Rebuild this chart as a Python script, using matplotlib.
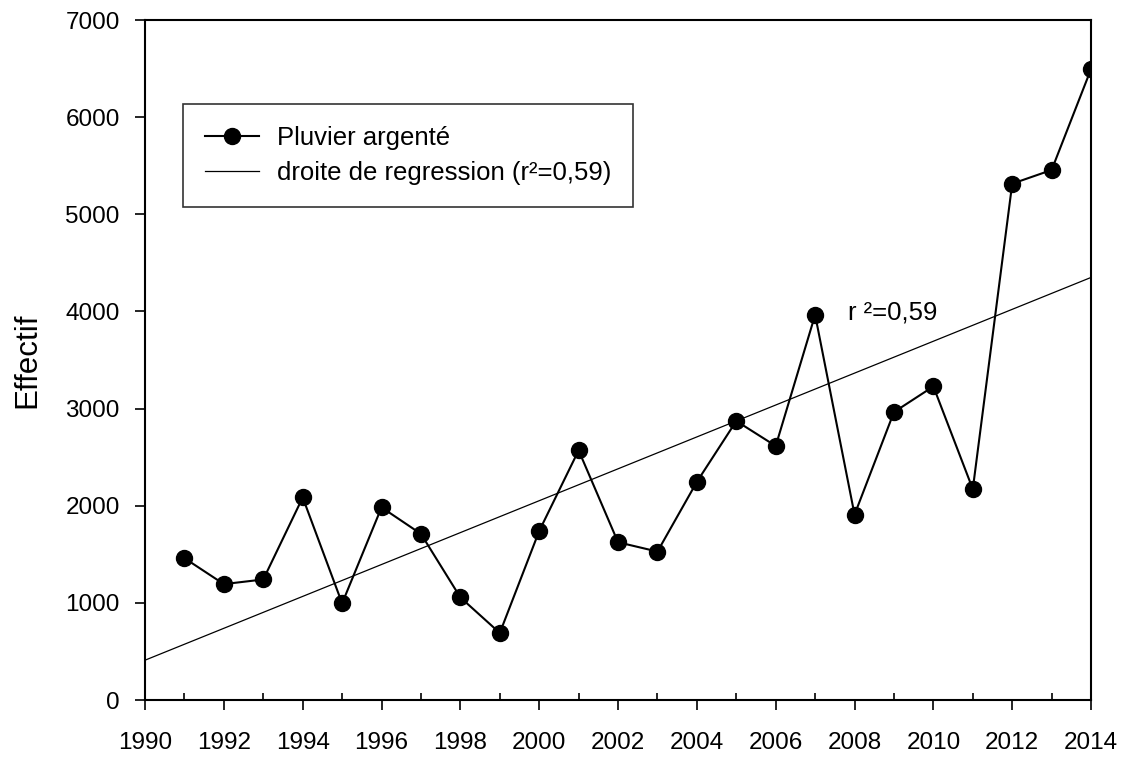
import matplotlib.pyplot as plt
from matplotlib.ticker import MultipleLocator

plt.rcParams['font.family'] = ['Liberation Sans', 'DejaVu Sans']

# effectifs annuels du Pluvier argenté
annees = [1991, 1992, 1993, 1994, 1995, 1996, 1997, 1998, 1999, 2000, 2001, 2002,
          2003, 2004, 2005, 2006, 2007, 2008, 2009, 2010, 2011, 2012, 2013, 2014]
effectif = [1460, 1193, 1241, 2085, 995, 1983, 1710, 1056, 690, 1740, 2570, 1624,
            1528, 2246, 2872, 2615, 3965, 1908, 2964, 3228, 2171, 5315, 5456, 6495]

# droite de régression aux bornes de l'axe
reg_x = [1990, 2014]
reg_y = [410, 4350]

fig = plt.figure(figsize=(11.27, 7.58), dpi=100)
ax = fig.add_axes([0.1287, 0.0765, 0.8394, 0.8971])

ax.plot(annees, effectif, color='black', lw=1.5, marker='o', markersize=11.5,
        label='Pluvier argenté', zorder=3)
ax.plot(reg_x, reg_y, color='black', lw=0.9, label='droite de regression (r²=0,59)')

ax.text(2007.83, 3984, 'r ²=0,59', fontsize=18.5, va='center', ha='left')

ax.set_xlim(1990, 2014)
ax.set_ylim(0, 7000)
ax.xaxis.set_major_locator(MultipleLocator(2))
ax.xaxis.set_minor_locator(MultipleLocator(1))
ax.yaxis.set_major_locator(MultipleLocator(1000))
ax.tick_params(axis='both', which='major', direction='out', length=7.2, width=1.2,
               labelsize=17.5)
ax.tick_params(axis='x', which='major', pad=16)
ax.tick_params(axis='y', which='major', pad=11)
ax.tick_params(axis='x', which='minor', direction='in', length=5, width=1.2)
for s in ax.spines.values():
    s.set_linewidth(1.5)

ax.set_ylabel('Effectif', fontsize=22.5)
ax.yaxis.set_label_coords(-0.109, 0.5)

leg = ax.legend(loc='upper left', bbox_to_anchor=(0.0402, 0.8765), fontsize=18.5,
                frameon=True, fancybox=False, edgecolor='black', handlelength=2.1,
                borderpad=0.85, labelspacing=0.45, handletextpad=0.7, borderaxespad=0)
leg.get_frame().set_linewidth(1.2)

fig.savefig('out.png', dpi=100)
